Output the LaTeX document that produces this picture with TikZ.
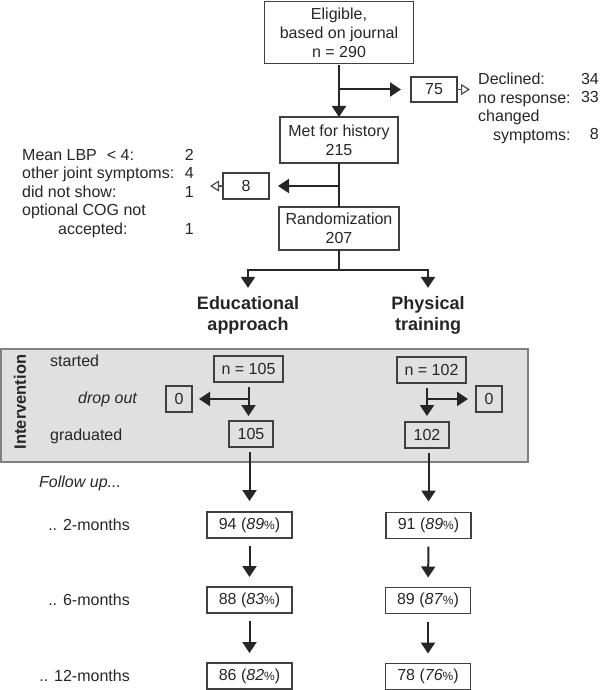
\documentclass[tikz,border=0pt]{standalone}
\usepackage{fontspec}
\setmainfont{Liberation Sans}
\usetikzlibrary{arrows.meta}

\newcommand{\pct}[1]{(\textit{#1}{\fontsize{12}{12}\selectfont\%})}

\begin{document}
\begin{tikzpicture}[x=1pt,y=-1pt,
    box/.style={draw=black!75,line width=1.3pt,inner sep=0pt,outer sep=0pt,
      minimum height=26pt,align=center,text=black!85,
      font=\fontsize{16}{19}\selectfont},
    lbl/.style={inner sep=0pt,text=black!85,font=\fontsize{16}{18.5}\selectfont},
    head/.style={inner sep=0pt,align=center,text=black!85,
      font=\fontsize{18}{21}\selectfont\bfseries},
    link/.style={draw=black!85,line width=2pt},
    arr/.style={link,-{Triangle[length=11pt,width=14pt]}},
    hollow/.style={draw=black!70,line width=1.2pt,-{Triangle[open,length=9pt,width=11pt]}}]
  \useasboundingbox (0,0) rectangle (600,690);

  % screening
  \node[box,minimum width=149pt,minimum height=62pt] (elig) at (339,32.5) {Eligible,\\based on journal\\n = 290};
  \node[box,minimum width=118pt,minimum height=46pt] (hist) at (339,140) {Met for history\\215};
  \node[box,minimum width=120pt,minimum height=43pt] (rand) at (339,228.5) {Randomization\\207};
  \node[box,minimum width=46pt,minimum height=25pt] (excl1) at (434,89.5) {75};
  \node[box,minimum width=46pt] (excl2) at (246,186) {8};

  \node[lbl,anchor=north west,align=left] (declin) at (478,73) {Declined:\\no response:\\changed\\\hspace*{15pt}symptoms:};
  \node[lbl,anchor=north east,align=right] (declnum) at (599,73) {34\\33\\\mbox{}\\8};
  \node[lbl,anchor=north west,align=left] (whyout) at (22,149) {Mean LBP\hspace{10pt}< 4:\\other joint symptoms:\\did not show:\\optional COG not\\\hspace*{36pt}accepted:};
  \node[lbl,anchor=north east,align=right] (whynum) at (194,149) {2\\4\\1\\\mbox{}\\1};

  \draw[arr,shorten <=2pt] (elig) -- (hist);
  \coordinate (b1) at (elig.south |- excl1);
  \draw[arr,shorten >=10pt] (b1) -- (excl1);
  \draw[hollow] (excl1.east) -- ++(13,0);
  \draw[link] (hist) -- (rand);
  \coordinate (b2) at (hist.south |- excl2);
  \draw[arr,shorten >=9pt] (b2) -- (excl2);
  \draw[hollow] (excl2.west) -- ++(-13,0);

  % groups
  \node[head] (edu) at (248,315.5) {Educational\\approach};
  \node[head] (phys) at (428,315.5) {Physical\\training};
  \coordinate (split) at (339,270);
  \draw[link] (rand) -- (split);
  \draw[arr,shorten >=8.5pt] (split) -| (edu);
  \draw[arr,shorten >=8.5pt] (split) -| (phys);

  % intervention
  \draw[draw=black!50,fill=black!12,line width=1.5pt] (1,349) rectangle (528,462);
  \node[lbl,rotate=90,font=\fontsize{16.5}{18}\selectfont\bfseries] (interv) at (20,402) {Intervention};
  \node[lbl,anchor=west] (started) at (50,361) {started};
  \node[lbl,anchor=west,font=\fontsize{16}{18}\selectfont\itshape] (dropout) at (78,399) {drop out};
  \node[lbl,anchor=west] (graduated) at (50,436) {graduated};

  \node[box,minimum width=69pt] (st1) at (248.5,369) {n = 105};
  \node[box,minimum width=69pt] (st2) at (431.5,370) {n = 102};
  \node[box,minimum width=26pt] (do1) at (179,399) {0};
  \node[box,minimum width=26pt] (do2) at (489,399) {0};
  \node[box,minimum width=44pt] (gr1) at (251,434) {105};
  \node[box,minimum width=44pt] (gr2) at (427,435) {102};

  \draw[arr,shorten <=5pt,shorten >=5pt] (st1) -- (st1 |- gr1.north);
  \draw[arr,shorten <=5pt,shorten >=6pt] (gr2 |- st2.south) -- (gr2);
  \coordinate (j1) at (st1 |- do1);
  \draw[arr,shorten >=7pt] (j1) -- (do1);
  \coordinate (j2) at (gr2 |- do2);
  \draw[arr,shorten >=8pt] (j2) -- (do2);

  % follow up
  \node[lbl,anchor=west,font=\fontsize{16}{18}\selectfont\itshape] (follow) at (39,483) {Follow up...};
  \node[lbl,anchor=east] (m2) at (130,525) {.. 2-months};
  \node[lbl,anchor=east] (m6) at (130,600) {.. 6-months};
  \node[lbl,anchor=east] (m12) at (130,676) {.. 12-months};

  \node[box,minimum width=85pt] (e2) at (249.5,525) {94 \pct{89}};
  \node[box,minimum width=85pt] (e6) at (249.5,600) {88 \pct{83}};
  \node[box,minimum width=85pt] (e12) at (249.5,676) {86 \pct{82}};
  \node[box,minimum width=85pt] (p2) at (428.5,525.5) {91 \pct{89}};
  \node[box,minimum width=85pt] (p6) at (428,600.5) {89 \pct{87}};
  \node[box,minimum width=85pt] (p12) at (428,676.5) {78 \pct{76}};

  \draw[arr,shorten <=5pt,shorten >=11pt] (e2 |- gr1.south) -- (e2);
  \draw[arr,shorten <=5pt,shorten >=11pt] (p2 |- gr2.south) -- (p2);
  \draw[arr,shorten <=8pt,shorten >=10pt] (e2) -- (e6);
  \draw[arr,shorten <=8pt,shorten >=10pt] (e6) -- (e12);
  \draw[arr,shorten <=8pt,shorten >=10pt] (p2) -- (p6);
  \draw[arr,shorten <=8pt,shorten >=10pt] (p6) -- (p12);
\end{tikzpicture}
\end{document}
